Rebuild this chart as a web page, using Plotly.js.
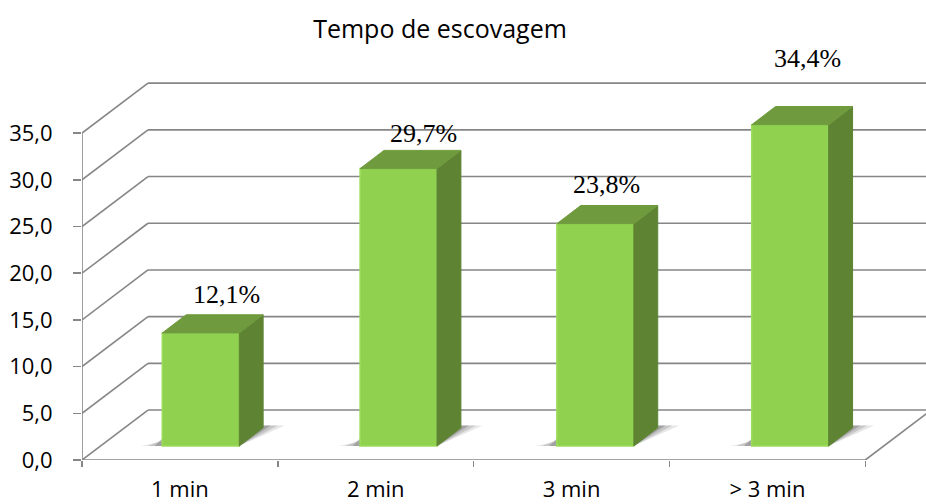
<!DOCTYPE html>
<html>
<head>
<meta charset="utf-8">
<script src="https://cdn.plot.ly/plotly-3.0.1.min.js"></script>
<style>html,body{margin:0;padding:0;background:#fff}#chart{width:926px;height:504px}</style>
</head>
<body>
<div id="chart"></div>
<script>
const categories = ['1 min', '2 min', '3 min', '> 3 min'];
const values = [12.1, 29.7, 23.8, 34.4];
const yTicks = [0, 5, 10, 15, 20, 25, 30, 35];
const xCenters = [0.5, 1.5, 2.5, 3.5];
const barCenters = [0.5, 1.51, 2.515, 3.51];
const xBoundaries = [0, 1, 2, 3, 4];
// Label anchors per bar, in axis units (hand placed like the original chart)
const labelX = [0.74, 1.745, 2.68, 3.706];
const labelY = [17.7, 35.0, 29.5, 43.0];

// Oblique projection offsets, in axis units
const wallDX = 0.337, wallDY = 5.35;   // depth of the chart box
const barDX = 0.122, barDY = 1.95;     // depth of a column
const barBase = 1.5;                   // front face sits a little into the floor
const barW = 0.393, barOff = -0.09;    // column width and left edge relative to the category centre
const xMax = 4.31, yMax = 44.97;

const gridColor = '#868686';
const frontColor = '#90D24F', topColor = '#6F9B3E', sideColor = '#5E8433';

const line = (xs, ys, w) => ({
  type: 'line', layer: 'below', xref: 'x', yref: 'y',
  x0: xs[0], y0: ys[0], x1: xs[1], y1: ys[1],
  line: {color: gridColor, width: w || 1.6}
});
const poly = (pts, color, op) => ({
  type: 'path', layer: 'below', xref: 'x', yref: 'y',
  path: 'M' + pts.map(p => p.join(',')).join('L') + 'Z',
  fillcolor: color, opacity: op, line: {width: 0}
});

// Walls, floor and axis lines
const shapes = [];
yTicks.forEach(t => {
  shapes.push(line([0, wallDX], [t, t + wallDY]));
  shapes.push(line([wallDX, xMax], [t + wallDY, t + wallDY]));
});
shapes.push(line([0, 0], [0, 35]));
shapes.push(line([0, 4], [0, 0]));
shapes.push(line([4, 4 + wallDX], [0, wallDY]));

// Soft floor shadows, stacked so they fade outward
barCenters.forEach(c => {
  const l = c + barOff, r = l + barW;
  [[0.11, 0.5, 0.14], [0.075, 0.75, 0.2], [0.04, 1.0, 0.3]].forEach(([s, rise, op]) => {
    shapes.push(poly([[l - s, barBase], [l + 0.01, barBase], [l + 0.01, barBase + rise]], '#4d4d4d', op));
    shapes.push(poly([[r, barBase], [r + barDX + s, barBase + barDY + 0.25], [r + barDX - 0.01, barBase + barDY + 0.25]], '#4d4d4d', op));
  });
});

// Column side and top faces follow each column's value
const faces = [];
values.forEach((v, i) => {
  const l = barCenters[i] + barOff, r = l + barW, top = barBase + v;
  faces.push({
    type: 'scatter', mode: 'lines', fill: 'toself', fillcolor: sideColor, hoverinfo: 'skip',
    line: {color: sideColor, width: 1},
    x: [r, r + barDX, r + barDX, r, r],
    y: [top, top + barDY, barBase + barDY, barBase, top]
  });
  faces.push({
    type: 'scatter', mode: 'lines', fill: 'toself', fillcolor: topColor, hoverinfo: 'skip',
    line: {color: topColor, width: 1},
    x: [l, l + barDX, r + barDX, r, l],
    y: [top, top + barDY, top + barDY, top, top]
  });
});

const bars = {
  type: 'bar', x: barCenters, y: values, base: barBase, width: barW, offset: barOff,
  marker: {color: frontColor, line: {color: '#9BDC5C', width: 1.5}},
  hoverinfo: 'skip'
};

const annotations = values.map((v, i) => ({
  x: labelX[i], y: labelY[i], xref: 'x', yref: 'y', showarrow: false,
  text: v.toFixed(1).replace('.', ',') + '%',
  font: {family: '"Liberation Serif", serif', size: 26, color: '#000'}
}));

const layout = {
  width: 926, height: 504,
  margin: {l: 81.5, r: 0, t: 40, b: 44},
  paper_bgcolor: '#fff', plot_bgcolor: 'rgba(0,0,0,0)',
  showlegend: false, separators: ',.',
  title: {
    text: 'Tempo de escovagem', x: 440 / 926, xref: 'container', xanchor: 'center',
    y: 1 - 29 / 504, yref: 'container', yanchor: 'middle',
    font: {family: '"Open Sans", sans-serif', size: 25, color: '#000'}
  },
  xaxis: {
    type: 'linear', range: [0, xMax], tickmode: 'array', tickvals: xCenters, ticktext: categories,
    ticks: '', showgrid: false, zeroline: false, showline: false, ticklabelstandoff: 14,
    tickfont: {family: '"Open Sans", sans-serif', size: 22, color: '#000'},
    minor: {tickmode: 'array', tickvals: xBoundaries, ticks: 'outside', ticklen: 6, tickwidth: 1.5, tickcolor: gridColor, showgrid: false}
  },
  yaxis: {
    range: [0, yMax], tickmode: 'array', tickvals: yTicks, tickformat: '.1f',
    ticks: 'outside', ticklen: 8, tickwidth: 1.5, tickcolor: gridColor,
    showgrid: false, zeroline: false, showline: false, ticklabelstandoff: 16,
    tickfont: {family: '"Open Sans", sans-serif', size: 22, color: '#000'}
  },
  shapes, annotations
};

Plotly.newPlot('chart', [bars, ...faces], layout, {displayModeBar: false, staticPlot: true});
</script>
</body>
</html>
